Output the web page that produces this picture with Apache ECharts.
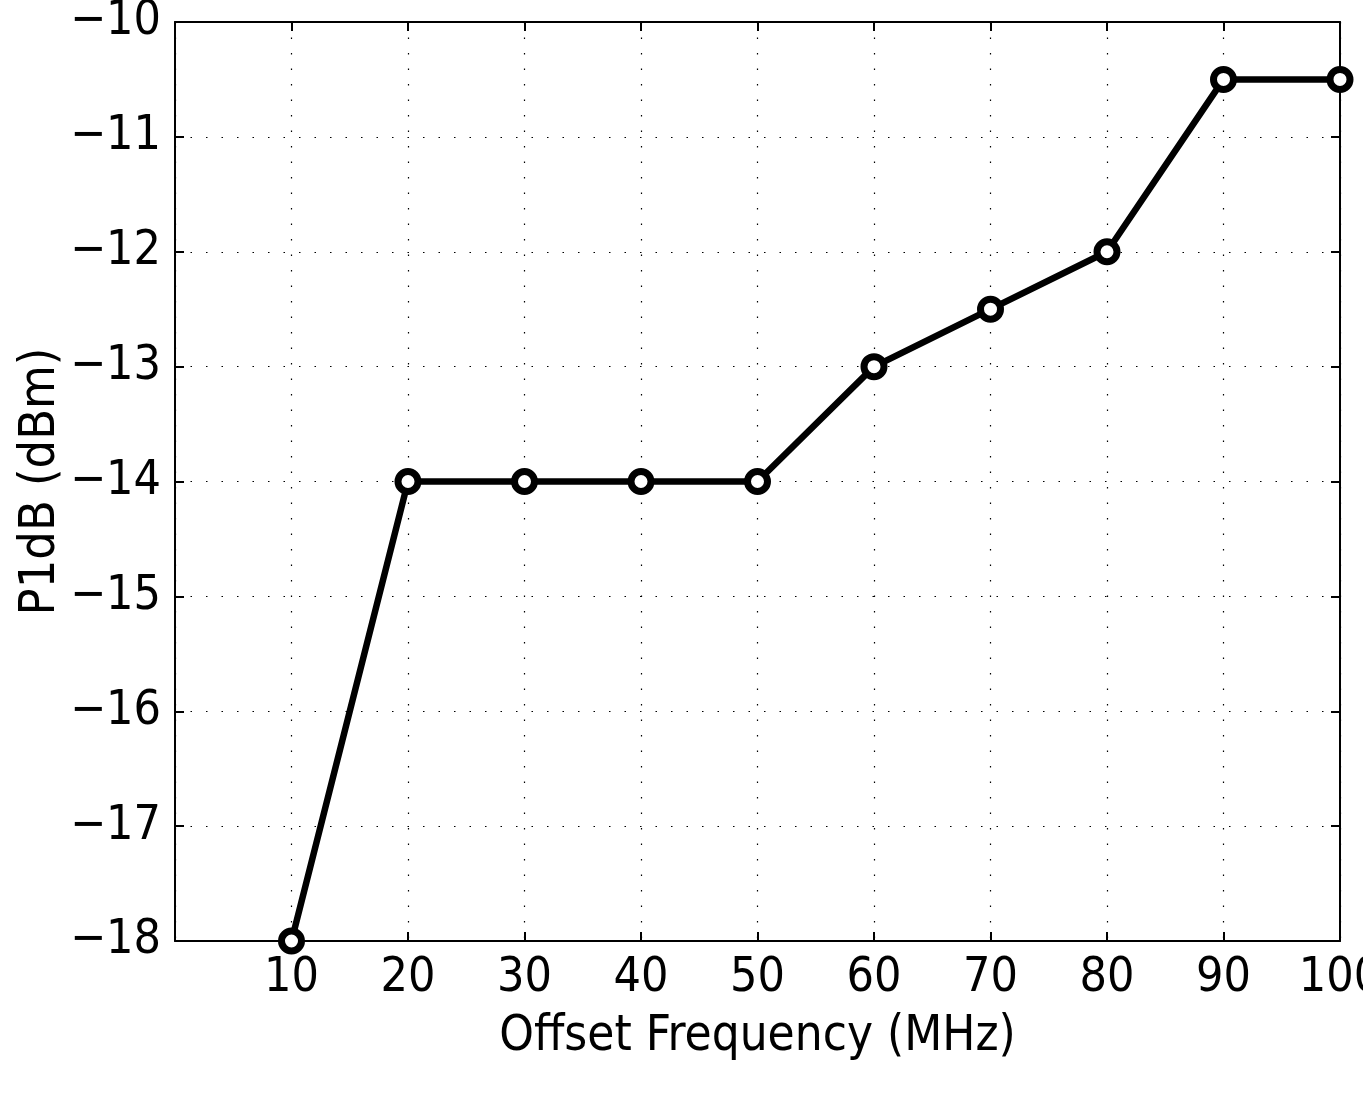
<!DOCTYPE html>
<html><head><meta charset="utf-8">
<script src="https://cdn.jsdelivr.net/npm/echarts@6/dist/echarts.min.js"></script>
<style>html,body{margin:0;padding:0;background:#fff}#c{width:1363px;height:1102px}</style>
</head><body><div id="c"></div>
<script>
const xValues = [10, 20, 30, 40, 50, 60, 70, 80, 90, 100];
const p1dB = [-18, -14, -14, -14, -14, -13, -12.5, -12, -10.5, -10.5];
const xTitle = 'Offset Frequency (MHz)';
const yTitle = 'P1dB (dBm)';

const font = 'DejaVu Sans Condensed';
const grid = { left: 175, right: 23, top: 22, bottom: 161, outerBoundsMode: 'none', containLabel: false };
const dotted = { show: true, lineStyle: { color: '#000', width: 1.2, type: [1.5, 14] } };
const chart = echarts.init(document.getElementById('c'));
chart.setOption({
  animation: false,
  backgroundColor: '#fff',
  grid: grid,
  xAxis: [{
    type: 'value', min: 0, max: 100, interval: 10,
    name: xTitle, nameLocation: 'middle', nameGap: 72, nameMoveOverlap: false,
    nameTextStyle: { fontFamily: font, fontSize: 49, color: '#000', verticalAlign: 'top' },
    axisLine: { show: true, onZero: false, lineStyle: { color: '#000', width: 2 } },
    axisTick: { show: true, inside: true, length: 9, lineStyle: { color: '#000', width: 2 } },
    axisLabel: { fontFamily: font, fontSize: 48, color: '#000', margin: 14,
      formatter: v => v === 0 ? '' : String(v) },
    splitLine: dotted
  }, {
    type: 'value', min: 0, max: 100, interval: 10, position: 'top',
    axisLine: { show: true, onZero: false, lineStyle: { color: '#000', width: 2 } },
    axisTick: { show: true, inside: true, length: 9, lineStyle: { color: '#000', width: 2 } },
    axisLabel: { show: false }, splitLine: { show: false }
  }],
  yAxis: [{
    type: 'value', min: -18, max: -10, interval: 1,
    name: yTitle, nameLocation: 'middle', nameGap: 109, nameMoveOverlap: false,
    nameTextStyle: { fontFamily: font, fontSize: 50, color: '#000' },
    axisLine: { show: true, onZero: false, lineStyle: { color: '#000', width: 2 } },
    axisTick: { show: true, inside: true, length: 9, lineStyle: { color: '#000', width: 2 } },
    axisLabel: { fontFamily: font, fontSize: 48, color: '#000', margin: 14,
      formatter: v => String(v).replace('-', '\u2212') },
    splitLine: dotted
  }, {
    type: 'value', min: -18, max: -10, interval: 1, position: 'right',
    axisLine: { show: true, onZero: false, lineStyle: { color: '#000', width: 2 } },
    axisTick: { show: true, inside: true, length: 9, lineStyle: { color: '#000', width: 2 } },
    axisLabel: { show: false }, splitLine: { show: false }
  }],
  series: [{
    type: 'line',
    data: xValues.map((x, i) => [x, p1dB[i]]),
    clip: false,
    symbol: 'circle', symbolSize: 20,
    lineStyle: { color: '#000', width: 6.5 },
    itemStyle: { color: '#fff', borderColor: '#000', borderWidth: 7 }
  }]
});
</script></body></html>
